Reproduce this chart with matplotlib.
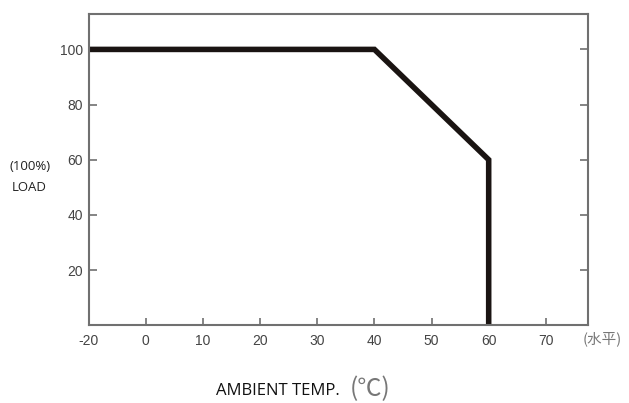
import matplotlib
matplotlib.use("Agg")
import matplotlib.pyplot as plt
import numpy as np

# Data
temps = [-20, 40, 60, 60]
load = [100, 100, 60, 0]
x_ticks = [-20, 0, 10, 20, 30, 40, 50, 60, 70]
y_ticks = [20, 40, 60, 80, 100]

def fwd(t):
    t = np.asarray(t, dtype=float)
    return np.where(t < 0, (t + 20) / 20.0, t / 10.0 + 1)

def inv(p):
    p = np.asarray(p, dtype=float)
    return np.where(p < 1, p * 20.0 - 20, (p - 1) * 10.0)

fig = plt.figure(figsize=(6.29, 4.03), dpi=100)
ax = fig.add_axes([0.141, 0.193, 0.794, 0.772])
ax.set_xscale('function', functions=(fwd, inv))
ax.plot(temps, load, color='#1a1412', lw=4.0, solid_joinstyle='miter',
        solid_capstyle='butt', clip_on=True)
ax.set_xlim(-20, 77.4)
ax.set_ylim(0, 112.8)

spine_c = '#707070'
for s in ax.spines.values():
    s.set_color(spine_c)
    s.set_linewidth(1.5)

ax.set_xticks(x_ticks)
ax.set_xticklabels([str(v) for v in x_ticks])
ax.set_yticks(y_ticks)
ax.set_yticklabels([str(v) for v in y_ticks])
ax.xaxis.set_minor_locator(matplotlib.ticker.NullLocator())
ax.tick_params(axis='x', direction='in', length=5, width=1.2, color=spine_c,
               labelsize=10, labelcolor='#444444', pad=6)
ax.tick_params(axis='y', direction='in', length=6, width=1.2, color=spine_c,
               labelsize=10, labelcolor='#444444', right=True, pad=4)
for lab in ax.get_xticklabels() + ax.get_yticklabels():
    lab.set_family('Liberation Sans')

fig.text(30 / 629, 1 - 167 / 403, '(100%)', fontsize=9.5, family='Open Sans',
         color='#222222', ha='center', va='center')
fig.text(29 / 629, 1 - 188 / 403, 'LOAD', fontsize=9.5, family='Open Sans',
         color='#222222', ha='center', va='center')
fig.text(216 / 629, 1 - 391 / 403, 'AMBIENT TEMP.', fontsize=12,
         family='Open Sans', color='#111111', ha='left', va='center')
fig.text(350 / 629, 1 - 389 / 403, '(℃)', fontsize=17.5,
         family=['Noto Sans CJK SC', 'DejaVu Sans'], color='#777777',
         ha='left', va='center')
fig.text(583 / 629, 1 - 339 / 403, '(水平)', fontsize=10.5,
         family=['Noto Sans CJK SC', 'DejaVu Sans'], color='#777777',
         ha='left', va='center')

fig.savefig('out.png', dpi=100)
